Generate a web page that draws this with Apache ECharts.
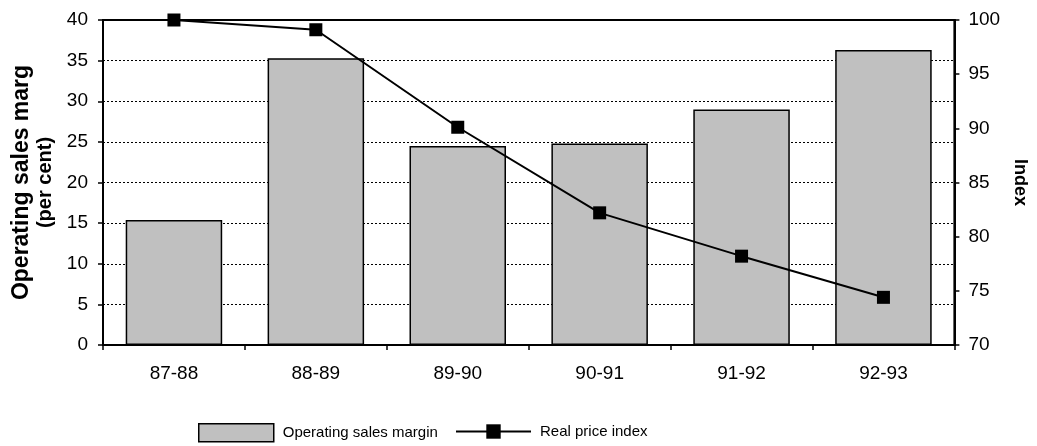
<!DOCTYPE html>
<html>
<head>
<meta charset="utf-8">
<script src="https://cdn.jsdelivr.net/npm/echarts@6/dist/echarts.min.js"></script>
<style>html,body{margin:0;padding:0;background:#fff;overflow:hidden}#c{width:1037px;height:446px;display:block}</style>
</head>
<body>
<div id="c"></div>
<script>
var categories = ['87-88', '88-89', '89-90', '90-91', '91-92', '92-93'];
var salesMargin = [15.4, 35.3, 24.5, 24.8, 29.0, 36.3];
var priceIndex = [100, 99.1, 90.1, 82.2, 78.2, 74.4];
var leftTicks = [0, 5, 10, 15, 20, 25, 30, 35, 40];
var rightTicks = [70, 75, 80, 85, 90, 95, 100];

var FONT = 'Liberation Sans, Arial, sans-serif';
var chart = echarts.init(document.getElementById('c'), null, {renderer: 'canvas', width: 1037, height: 446});
chart.setOption({
  animation: false,
  backgroundColor: '#fff',
  textStyle: {fontFamily: FONT, color: '#000'},
  grid: {left: 103, right: 78, top: 20, bottom: 101, show: true, borderColor: '#000', borderWidth: 2, backgroundColor: 'transparent'},
  legend: [{
    data: [{name: 'Operating sales margin', icon: 'rect'}],
    left: 193, top: 418,
    itemWidth: 75, itemHeight: 18,
    itemStyle: {borderWidth: 1.5, borderColor: '#000'},
    textStyle: {fontSize: 15, color: '#000', fontFamily: FONT, padding: [12, 0, 0, 4]}
  }, {
    data: ['Real price index'],
    left: 450, top: 419,
    itemWidth: 75, itemHeight: 18,
    textStyle: {fontSize: 15, color: '#000', fontFamily: FONT, padding: [14, 0, 0, 4]}
  }],
  xAxis: {
    type: 'category',
    data: categories,
    axisLine: {lineStyle: {color: '#000', width: 2}},
    axisTick: {show: true, inside: false, length: 5, lineStyle: {color: '#000', width: 1.5}},
    axisLabel: {fontSize: 19, color: '#000', margin: 19, fontFamily: FONT},
    splitLine: {show: false}
  },
  yAxis: [{
    type: 'value', min: leftTicks[0], max: leftTicks[leftTicks.length - 1], interval: 5,
    position: 'left',
    name: '{a|Operating sales marg}\n{b|(per cent)}',
    nameLocation: 'middle', nameGap: 45, nameRotate: 90,
    nameTextStyle: {
      fontWeight: 'bold', color: '#000', fontFamily: FONT,
      rich: {
        a: {fontSize: 23, fontWeight: 'bold', fontFamily: FONT, lineHeight: 25, color: '#000'},
        b: {fontSize: 20, fontWeight: 'bold', fontFamily: FONT, lineHeight: 23, color: '#000'}
      }
    },
    axisLine: {show: true, lineStyle: {color: '#000', width: 2}},
    axisTick: {show: true, length: 5, lineStyle: {color: '#000', width: 1.5}},
    axisLabel: {fontSize: 19, color: '#000', margin: 15, fontFamily: FONT},
    splitLine: {show: true, lineStyle: {color: '#000', type: [2, 2], width: 1}}
  }, {
    type: 'value', min: rightTicks[0], max: rightTicks[rightTicks.length - 1], interval: 5,
    position: 'right',
    name: 'Index',
    nameLocation: 'middle', nameGap: 55, nameRotate: -90,
    nameTextStyle: {fontSize: 18, fontWeight: 'bold', color: '#000', fontFamily: FONT},
    axisLine: {show: true, lineStyle: {color: '#000', width: 2}},
    axisTick: {show: true, length: 5, lineStyle: {color: '#000', width: 1.5}},
    axisLabel: {fontSize: 19, color: '#000', margin: 14, fontFamily: FONT},
    splitLine: {show: false}
  }],
  series: [{
    name: 'Operating sales margin',
    type: 'bar',
    yAxisIndex: 0,
    data: salesMargin,
    barCategoryGap: '32%',
    itemStyle: {color: '#c0c0c0', borderColor: '#000', borderWidth: 1.5}
  }, {
    name: 'Real price index',
    type: 'line',
    yAxisIndex: 1,
    data: priceIndex,
    symbol: 'rect', symbolSize: 13,
    itemStyle: {color: '#000'},
    lineStyle: {color: '#000', width: 2}
  }]
});
</script>
</body>
</html>
